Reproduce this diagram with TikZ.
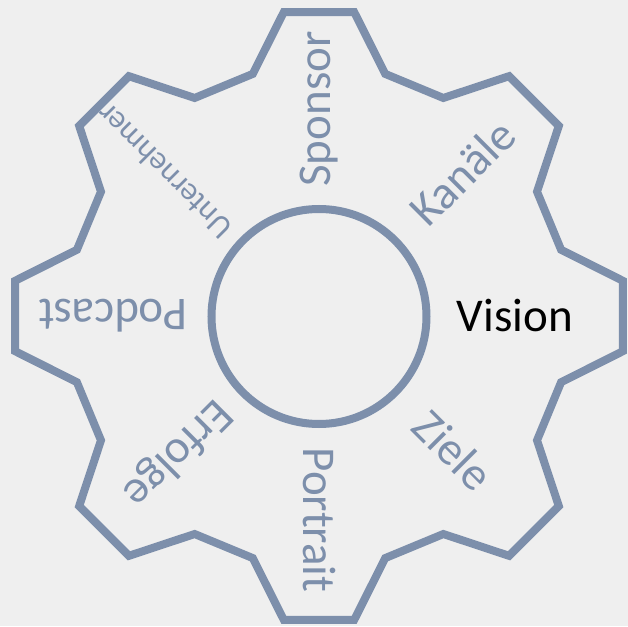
\documentclass[tikz,border=0pt]{standalone}
\usepackage{fontspec}
\setmainfont{Carlito}
\definecolor{gearblue}{RGB}{125,143,171}
\definecolor{bgcol}{RGB}{239,239,239}
\begin{document}
\begin{tikzpicture}[x=1pt,y=1pt,
  gearline/.style={draw=gearblue,line width=8pt,line join=miter},
  lbl/.style={text=gearblue,font=\fontsize{47}{52}\selectfont,inner sep=0pt},
  smalllbl/.style={lbl,font=\fontsize{32}{38}\selectfont}]
\fill[bgcol] (-319,-310) rectangle (309,316);
\useasboundingbox (-319,-310) rectangle (309,316);
% gear outline
\draw[gearline] (337.5:249.02)
  \foreach \a in {0,45,...,315}{
    -- (\a-15.3:251) -- (\a-6.6:306) -- (\a+6.6:306) -- (\a+15.3:251)
  } -- cycle;
% hub
\node[circle,draw=gearblue,line width=8pt,minimum size=215pt,inner sep=0pt] (hub) at (0,-0.5) {};
% labels
\node[lbl,text=black] (vision) at (0:196) {Vision};
\node[lbl,rotate=45] (kanaele) at (45:203) {Kanäle};
\node[lbl,rotate=90] (sponsor) at (90:207) {Sponsor};
\node[smalllbl,rotate=135] (unternehmer) at (137:212) {Unternehmer};
\node[lbl,rotate=180] (podcast) at (180:206) {Podcast};
\node[lbl,rotate=225] (erfolge) at (224:197) {Erfolge};
\node[lbl,rotate=270] (portrait) at (270:204) {Portrait};
\node[lbl,rotate=315] (ziele) at (315:190) {Ziele};
\end{tikzpicture}
\end{document}
